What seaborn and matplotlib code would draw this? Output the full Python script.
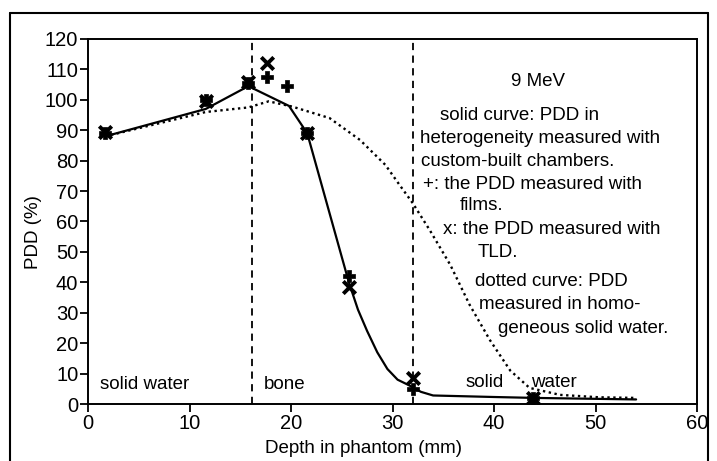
import matplotlib
matplotlib.use("Agg")
import matplotlib.pyplot as plt
from matplotlib.lines import Line2D
import seaborn as sns
import pandas as pd

# ---- data ----
solid_x = [1.7, 11.6, 15.8, 19.8, 21.6, 25.7, 26.6, 27.5, 28.5, 29.5, 30.5, 31.6, 32.8, 34, 40, 44, 54]
solid_y = [88, 97, 104.5, 98, 89, 40, 31, 24, 17, 11.5, 8, 6.2, 4, 2.8, 2.3, 2, 1.5]

dotted_x = [1.7, 11.6, 15.8, 17.8, 20.1, 23.8, 26.8, 29.3, 30.7, 32, 33.7, 35.7, 37.6, 39.6, 41.6, 43.5, 46.5, 50.4, 54]
dotted_y = [88, 96, 97.5, 99.5, 97.8, 94, 86.8, 78.6, 72, 66, 57, 45.7, 32.6, 21, 11, 5.3, 3, 2.2, 2]

films_x = [1.7, 11.6, 15.8, 17.6, 19.6, 21.6, 25.7, 32, 43.8]
films_y = [89, 100, 105.5, 107.5, 104.5, 89, 42, 5, 2]

tld_x = [1.7, 11.6, 15.8, 17.6, 21.6, 25.7, 32, 43.8]
tld_y = [89.5, 99.5, 106, 112, 89, 38.5, 8.5, 2]

boundaries = [16.2, 32]
x_ticks = [0, 10, 20, 30, 40, 50, 60]
y_ticks = list(range(0, 121, 10))

sns.set_style("ticks")
plt.rcParams['font.family'] = ['Liberation Sans', 'DejaVu Sans']
plt.rcParams['text.color'] = 'black'
plt.rcParams['axes.labelcolor'] = 'black'

fig = plt.figure(figsize=(7.17, 4.61), dpi=100)
W, H = 717, 461
ax = fig.add_axes([88 / W, 1 - 404 / H, (697 - 88) / W, (404 - 39) / H])

sns.lineplot(data=pd.DataFrame({"x": solid_x, "y": solid_y}), x="x", y="y",
             ax=ax, color="black", lw=1.6, sort=False)
sns.lineplot(data=pd.DataFrame({"x": dotted_x, "y": dotted_y}), x="x", y="y",
             ax=ax, color="black", lw=1.7, sort=False, linestyle=(0, (1, 1.5)))
sns.scatterplot(data=pd.DataFrame({"x": films_x, "y": films_y}), x="x", y="y",
                ax=ax, marker="P", s=70, color="black", edgecolor="black", linewidth=0.5, zorder=5)
sns.scatterplot(data=pd.DataFrame({"x": tld_x, "y": tld_y}), x="x", y="y",
                ax=ax, marker="x", s=80, color="black", linewidth=2.8, zorder=5)

for b in boundaries:
    ax.axvline(b, color="black", lw=1.3, linestyle=(0, (4, 3)))

ax.set_xlim(0, 60)
ax.set_ylim(0, 120)
ax.set_xticks(x_ticks)
ax.set_yticks(y_ticks)
ax.tick_params(axis="both", labelsize=14.5, length=6, width=1.3, color="black",
               labelcolor="black", pad=1)
for s in ax.spines.values():
    s.set_linewidth(1.4)
    s.set_color("black")
ax.set_xlabel("Depth in phantom (mm)", fontsize=13.5, color="black")
ax.set_ylabel("PDD (%)", fontsize=13.5, color="black")
ax.xaxis.set_label_coords(0.452, -0.098)
ax.yaxis.set_label_coords(-0.076, 0.471)

fs = 13.5
ax.text(1.2, 6.5, "solid water", fontsize=fs, va="center")
ax.text(17.3, 6.5, "bone", fontsize=fs, va="center")
ax.text(37.2, 7, "solid", fontsize=fs, va="center")
ax.text(43.6, 7, "water", fontsize=fs, va="center")

ax.text(44.3, 106, "9 MeV", fontsize=fs, va="center", ha="center")
legend_lines = [
    (34.7, 94.8, "solid curve: PDD in"),
    (32.7, 87.2, "heterogeneity measured with"),
    (32.8, 79.7, "custom-built chambers."),
    (33.0, 72.1, "+: the PDD measured with"),
    (36.6, 65.2, "films."),
    (35.0, 57.4, "x: the PDD measured with"),
    (38.4, 49.8, "TLD."),
    (38.1, 40.3, "dotted curve: PDD"),
    (38.5, 32.8, "measured in homo-"),
    (40.4, 24.9, "geneous solid water."),
]
for x, y, t in legend_lines:
    ax.text(x, y, t, fontsize=fs, va="center", ha="left")

# outer frame of the figure
fx0, fy0, fx1 = 10 / W, 1 - 13 / H, 708 / W
for xs, ys in [([fx0, fx0], [0, fy0]), ([fx0, fx1], [fy0, fy0]), ([fx1, fx1], [fy0, 0])]:
    fig.add_artist(Line2D(xs, ys, color="black", lw=1.5, transform=fig.transFigure))

fig.savefig("out.png", dpi=100)
